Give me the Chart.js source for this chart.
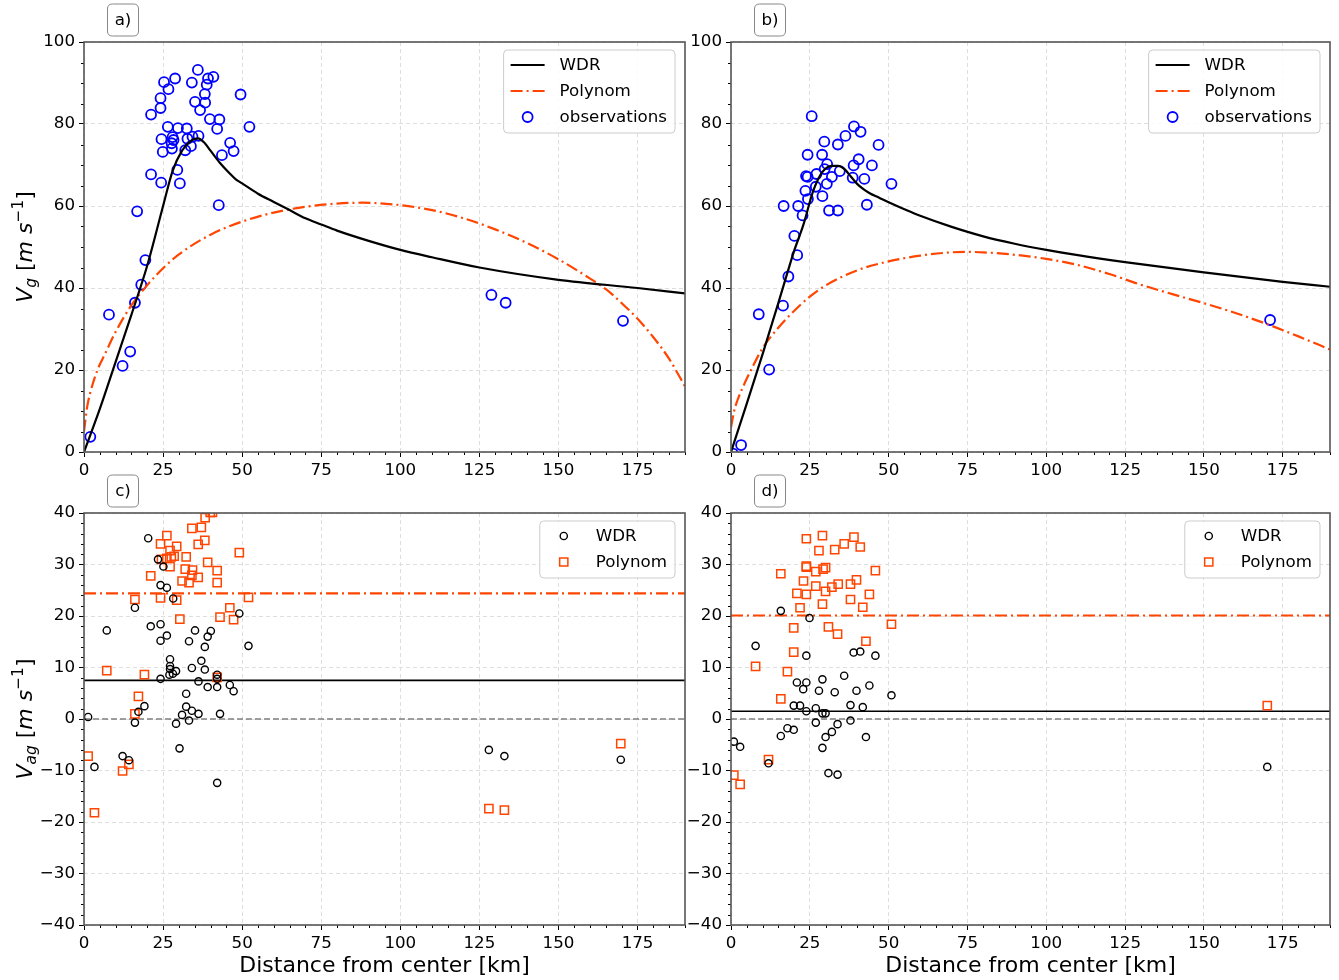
<!DOCTYPE html>
<html>
<head>
<meta charset="utf-8">
<script src="https://cdn.jsdelivr.net/npm/chart.js@4.4.0/dist/chart.umd.min.js"></script>
<style>
    body { margin: 0; background: #fff; }
    #wrap { position: relative; width: 1339px; height: 980px; overflow: hidden; }
    #wrap canvas { position: absolute; }
</style>
</head>
<body>
<div id="wrap">
    <canvas id="chartA" width="695" height="485" style="left:0;top:0"></canvas>
    <canvas id="chartB" width="653" height="485" style="left:686px;top:0"></canvas>
    <canvas id="chartC" width="695" height="520" style="left:0;top:460px"></canvas>
    <canvas id="chartD" width="653" height="520" style="left:686px;top:460px"></canvas>
</div>
<script>
// ---- panel a: wind profile, first case ----
const wdrAX = [0, 5, 10, 15, 20, 25, 28, 31, 34, 36, 38, 40, 43, 46, 48, 50, 55, 60, 65, 70, 75, 80, 90, 100, 110, 125, 150, 175, 190];
const wdrAY = [0, 10.5, 22, 33.5, 45.5, 60, 68.5, 73.5, 76, 76.5, 75.5, 73.5, 70.5, 68, 66.5, 65.5, 63, 61, 59, 57, 55.5, 54, 51.5, 49.3, 47.5, 45, 42, 40, 38.7];
const polyAX = [0, 1, 2, 4, 7, 10, 15, 20, 25, 30, 40, 50, 60, 70, 80, 88, 100, 110, 120, 130, 140, 150, 160, 165, 170, 175, 180, 185, 190];
const polyAY = [5, 11, 14.5, 19.5, 24.5, 29.3, 35.8, 40.7, 44.8, 48.2, 53, 56.2, 58.4, 59.8, 60.6, 60.8, 60.2, 59, 57, 54.3, 51, 47, 42.3, 39.7, 36.3, 32.5, 28, 22.7, 16];
const obsAX = [36.0, 25.3, 28.8, 26.7, 34.1, 39.2, 40.9, 38.8, 38.2, 24.2, 49.5, 35.1, 38.3, 24.2, 36.7, 21.2, 39.8, 42.8, 42.1, 52.3,
               26.5, 29.7, 32.5, 24.5, 28.0, 28.3, 32.7, 34.3, 36.2, 27.7, 33.8, 46.2, 24.9, 27.8, 32.0, 47.3, 43.6, 29.5, 21.2, 24.4,
               30.3, 42.6, 16.8, 19.4, 18.1, 16.1, 7.9, 14.6, 12.2, 2.0, 128.8, 133.3, 170.4];
const obsAY = [93.2, 90.2, 91.1, 88.5, 90.1, 91.1, 91.5, 89.6, 87.3, 86.3, 87.2, 85.4, 85.2, 83.9, 83.4, 82.3, 81.2, 81.1, 78.8, 79.3,
               79.3, 79.0, 78.9, 76.3, 76.8, 76.1, 76.4, 76.9, 77.1, 75.3, 74.6, 75.4, 73.2, 74.0, 73.6, 73.4, 72.4, 68.8, 67.7, 65.7,
               65.5, 60.2, 58.7, 46.8, 40.8, 36.4, 33.5, 24.5, 21.0, 3.7, 38.3, 36.4, 32.0];

// ---- panel b: wind profile, second case ----
const wdrBX = [0, 5, 10, 15, 18, 20, 23, 26, 29, 32, 34, 36, 38, 40, 42, 44, 47, 50, 55, 60, 70, 80, 90, 100, 110, 125, 150, 175, 190];
const wdrBY = [0, 11.8, 23.8, 36.3, 44, 49, 55.5, 63.5, 68.3, 69.8, 69.8, 69, 67.2, 65.4, 64.1, 63.1, 62, 60.9, 59.2, 57.6, 54.9, 52.6, 50.8, 49.3, 48, 46.3, 43.8, 41.5, 40.3];
const polyBX = [0, 1, 2, 4, 7, 10, 15, 20, 25, 30, 40, 50, 60, 70, 75, 80, 90, 100, 110, 120, 130, 140, 150, 160, 170, 180, 190];
const polyBY = [6, 10, 12.5, 16.2, 21, 25.3, 30.3, 34.4, 37.9, 40.6, 44.3, 46.5, 47.9, 48.7, 48.8, 48.7, 48.1, 47.1, 45.6, 43.4, 40.8, 38.5, 36.3, 33.9, 31.2, 28.2, 25];
const obsBX = [25.6, 39.0, 41.1, 36.3, 29.6, 33.9, 46.8, 24.3, 28.9, 40.5, 30.5, 38.9, 44.7, 29.7, 34.5, 23.8, 24.3, 27.1, 32.0, 38.6,
               42.3, 50.9, 23.6, 26.9, 30.4, 29.0, 24.4, 16.7, 21.3, 43.1, 22.7, 31.1, 33.9, 20.1, 21.0, 18.2, 16.5, 8.8, 12.1, 3.2,
               0.6, 171.0];
const obsBY = [81.9, 79.4, 78.1, 77.1, 75.7, 75.0, 74.9, 72.5, 72.5, 71.4, 70.2, 69.9, 69.9, 69.0, 68.5, 67.3, 67.1, 67.8, 67.1, 66.9,
               66.6, 65.4, 63.7, 64.7, 65.4, 62.4, 61.7, 60.0, 60.0, 60.3, 57.7, 58.9, 58.9, 52.7, 48.0, 42.8, 35.7, 33.6, 20.1, 1.7,
               -0.4, 32.2];

// ---- panel c: ageostrophic residuals, first case ----
const resWdrCX = [20.3, 23.4, 25.1, 24.2, 26.2, 28.2, 16.1, 49.1, 7.2, 21.1, 24.2, 26.2, 24.2, 35.1, 40.1, 39.1, 33.2, 38.2, 52.0, 27.2,
                  37.1, 27.2, 27.2, 34.1, 38.2, 29.1, 28.1, 27.0, 24.2, 42.1, 42.1, 36.2, 39.1, 42.1, 46.1, 47.3, 32.3, 19.1, 17.2, 32.3,
                  34.1, 31.0, 36.2, 43.0, 33.2, 1.3, 16.1, 29.1, 30.2, 12.2, 14.2, 3.3, 42.1, 128.0, 132.9, 169.7];
const resWdrCY = [35.1, 31.0, 29.6, 26.0, 25.5, 23.4, 21.6, 20.5, 17.2, 18.0, 18.4, 16.2, 15.2, 17.2, 17.1, 16.0, 15.1, 14.0, 14.2, 11.6,
                  11.3, 10.3, 9.7, 9.9, 9.6, 9.3, 8.8, 8.6, 7.8, 8.6, 7.8, 7.3, 6.2, 6.2, 6.6, 5.4, 4.9, 2.5, 1.4, 2.4,
                  1.6, 0.8, 1.0, 1.0, -0.3, 0.4, -0.7, -0.9, -5.7, -7.2, -8.0, -9.3, -12.4, -6.0, -7.2, -7.9];
const resPolyCX = [38.3, 39.9, 40.6, 34.1, 37.1, 26.2, 24.2, 29.3, 36.1, 38.2, 27.2, 49.1, 32.3, 24.5, 26.2, 27.6, 28.5, 27.2, 39.1, 32.0,
                   34.3, 42.1, 34.1, 36.1, 21.1, 31.0, 33.2, 42.1, 16.1, 24.2, 29.3, 52.0, 46.1, 43.0, 47.3, 30.3, 7.2, 19.1, 42.1, 17.2,
                   16.1, 1.3, 14.2, 12.2, 3.3, 128.0, 132.9, 169.7];
const resPolyCY = [39.1, 40.1, 40.1, 37.0, 37.2, 35.6, 34.0, 33.5, 33.9, 34.7, 32.7, 32.3, 31.5, 31.0, 31.2, 31.5, 31.6, 29.6, 30.4, 29.1,
                   28.9, 28.8, 27.9, 27.5, 27.8, 26.8, 26.5, 26.5, 23.2, 23.5, 23.1, 23.6, 21.6, 19.8, 19.3, 19.4, 9.4, 8.6, 8.1, 4.4,
                   1.0, -7.2, -8.8, -10.1, -18.2, -17.4, -17.7, -4.8];
const seriesLabels = ['WDR', 'Polynom'];
const meanC = [7.5, 24.4];

// ---- panel d: ageostrophic residuals, second case ----
const resWdrDX = [15.8, 24.9, 7.8, 23.9, 38.9, 41.0, 45.8, 35.9, 29.0, 20.9, 23.9, 22.9, 27.9, 32.9, 39.8, 43.9, 50.9, 19.9, 21.9, 23.9,
                  26.9, 29.0, 30.0, 37.9, 41.8, 26.9, 37.9, 33.8, 32.0, 17.9, 19.9, 15.8, 30.0, 42.8, 29.0, 0.9, 2.9, 11.9, 30.9, 33.8,
                  170.1];
const resWdrDY = [21.0, 19.6, 14.2, 12.3, 12.9, 13.1, 12.3, 8.4, 7.7, 7.1, 7.1, 5.8, 5.5, 5.2, 5.5, 6.5, 4.6, 2.6, 2.6, 1.5,
                  2.1, 1.1, 1.1, 2.7, 2.3, -0.7, -0.3, -1.0, -2.5, -1.8, -2.1, -3.3, -3.5, -3.5, -5.6, -4.4, -5.4, -8.6, -10.5, -10.8,
                  -9.3];
const resPolyDX = [23.9, 29.0, 39.0, 35.9, 41.0, 27.9, 32.9, 23.9, 23.9, 30.0, 29.2, 26.9, 45.8, 15.8, 23.0, 39.8, 26.9, 32.0, 34.0, 37.9,
                   30.0, 20.9, 23.9, 43.9, 37.9, 29.0, 21.9, 41.8, 50.9, 19.9, 30.9, 33.8, 42.8, 19.9, 7.8, 17.9, 15.8, 11.9, 0.9, 2.9,
                   170.1];
const resPolyDY = [35.0, 35.6, 35.3, 34.0, 33.4, 32.7, 32.9, 29.7, 29.5, 29.4, 29.1, 28.6, 28.8, 28.2, 26.8, 27.0, 25.8, 25.6, 26.2, 26.2,
                   24.8, 24.4, 24.2, 24.2, 23.2, 22.3, 21.6, 21.7, 18.4, 17.7, 17.9, 16.5, 15.1, 13.0, 10.2, 9.2, 3.9, -7.9, -10.9, -12.7,
                   2.6];
const meanD = [1.5, 20.1];

const xRange = [0, 190];
const xTitle = 'Distance from center [km]';

const BLUE = '#0000ff';
const ORANGE = '#ff4500';
const FONT = 'DejaVu Sans';

Chart.defaults.font.family = FONT;
Chart.defaults.font.size = 16.7;
Chart.defaults.color = '#000';

function pts(xs, ys) {
    return xs.map((x, i) => ({ x: x, y: ys[i] }));
}

function curve(label, xs, ys, color, dash) {
    return {
        label: label,
        data: pts(xs, ys),
        showLine: true,
        borderColor: color,
        borderWidth: 2.2,
        borderDash: dash || [],
        pointRadius: 0,
        cubicInterpolationMode: 'monotone',
        clip: 0
    };
}

function markers(label, xs, ys, color, style, r, w) {
    return {
        label: label,
        data: pts(xs, ys),
        showLine: false,
        borderColor: color,
        backgroundColor: 'rgba(0,0,0,0)',
        pointStyle: style,
        pointRadius: r,
        borderWidth: w,
        clip: 0
    };
}

function hline(label, value, color, dash, width) {
    return {
        label: label,
        data: pts(xRange, [value, value]),
        showLine: true,
        borderColor: color,
        borderWidth: width,
        borderDash: dash,
        pointRadius: 0,
        clip: 0
    };
}

// y-axis title with sub/superscripts, drawn rotated
function drawMathTitle(ctx, parts, cx, cy, size) {
    ctx.save();
    ctx.translate(cx, cy);
    ctx.rotate(-Math.PI / 2);
    let total = 0;
    const runs = parts.map(p => {
        const fs = (p.sub || p.sup) ? size * 0.7 : size;
        const font = (p.it ? 'italic ' : '') + fs + 'px "' + FONT + '"';
        ctx.font = font;
        const w = ctx.measureText(p.t).width;
        total += w;
        return { p, font, w };
    });
    let x = -total / 2;
    ctx.fillStyle = '#000';
    ctx.textBaseline = 'alphabetic';
    ctx.textAlign = 'left';
    runs.forEach(r => {
        ctx.font = r.font;
        const dy = r.p.sub ? size * 0.2 : (r.p.sup ? -size * 0.4 : 0);
        ctx.fillText(r.p.t, x, size * 0.36 + dy);
        x += r.w;
    });
    ctx.restore();
}

function roundBox(ctx, x, y, w, h, r) {
    ctx.beginPath();
    ctx.moveTo(x + r, y);
    ctx.lineTo(x + w - r, y);
    ctx.quadraticCurveTo(x + w, y, x + w, y + r);
    ctx.lineTo(x + w, y + h - r);
    ctx.quadraticCurveTo(x + w, y + h, x + w - r, y + h);
    ctx.lineTo(x + r, y + h);
    ctx.quadraticCurveTo(x, y + h, x, y + h - r);
    ctx.lineTo(x, y + r);
    ctx.quadraticCurveTo(x, y, x + r, y);
    ctx.closePath();
}

// frame, minor ticks, legend box, panel tag and y title
const panelDecor = {
    id: 'panelDecor',
    afterDraw(chart, args, opts) {
        const ctx = chart.ctx;
        const a = chart.chartArea;
        const xs = chart.scales.x, ys = chart.scales.y;

        ctx.save();
        // minor ticks
        ctx.strokeStyle = '#000';
        ctx.lineWidth = 1;
        ctx.beginPath();
        for (let v = xs.min; v <= xs.max; v += 5) {
            if (v % 25 === 0) continue;
            const px = Math.round(xs.getPixelForValue(v)) + 0.5;
            ctx.moveTo(px, a.bottom);
            ctx.lineTo(px, a.bottom + 3);
        }
        for (let v = ys.min; v <= ys.max; v += opts.minorY) {
            if (v % opts.majorY === 0) continue;
            const py = Math.round(ys.getPixelForValue(v)) + 0.5;
            ctx.moveTo(a.left, py);
            ctx.lineTo(a.left - 3, py);
        }
        ctx.stroke();

        // axes frame
        ctx.strokeStyle = '#555';
        ctx.lineWidth = 1.6;
        ctx.strokeRect(a.left, a.top, a.right - a.left, a.bottom - a.top);

        // legend
        const items = opts.legendItems.map(i => chart.data.datasets[i]);
        ctx.font = '16.7px "' + FONT + '"';
        const tw = Math.max(...items.map(d => ctx.measureText(d.label).width));
        const bw = 56 + tw + 8;
        const bh = 26 * items.length + 5;
        const bx = a.right - 10 - bw;
        const by = a.top + 8;
        roundBox(ctx, bx, by, bw, bh, 4);
        ctx.fillStyle = 'rgba(255,255,255,0.85)';
        ctx.fill();
        ctx.strokeStyle = '#cccccc';
        ctx.lineWidth = 1;
        ctx.stroke();
        items.forEach((d, i) => {
            const cy = by + 15 + 26 * i;
            if (d.showLine) {
                ctx.save();
                ctx.strokeStyle = d.borderColor;
                ctx.lineWidth = d.borderWidth;
                ctx.setLineDash(d.borderDash || []);
                ctx.beginPath();
                ctx.moveTo(bx + 7, cy);
                ctx.lineTo(bx + 41, cy);
                ctx.stroke();
                ctx.restore();
            } else {
                ctx.save();
                ctx.strokeStyle = d.borderColor;
                ctx.fillStyle = 'rgba(0,0,0,0)';
                ctx.lineWidth = d.borderWidth;
                Chart.helpers.drawPoint(ctx, {
                    pointStyle: d.pointStyle, radius: d.pointRadius, rotation: 0, borderWidth: d.borderWidth
                }, bx + 24, cy);
                ctx.restore();
            }
            ctx.fillStyle = '#000';
            ctx.textBaseline = 'middle';
            ctx.textAlign = 'left';
            ctx.fillText(d.label, bx + 56, cy + 1);
        });

        // panel tag
        const tcx = a.left + 39, tcy = a.top - 22;
        roundBox(ctx, tcx - 15.5, tcy - 16, 31, 32, 5);
        ctx.fillStyle = '#fff';
        ctx.fill();
        ctx.strokeStyle = '#888';
        ctx.lineWidth = 1;
        ctx.stroke();
        ctx.fillStyle = '#000';
        ctx.textAlign = 'center';
        ctx.textBaseline = 'middle';
        ctx.font = '16.7px "' + FONT + '"';
        ctx.fillText(opts.tag, tcx, tcy + 1);
        ctx.restore();

        if (opts.yTitle) {
            drawMathTitle(ctx, opts.yTitle, 24, (a.top + a.bottom) / 2, 22);
        }
    }
};

// tick text with a typographic minus sign
const minusLabel = v => String(v).replace('-', '\u2212');

function makePanel(id, datasets, cfg) {
    const ctx = document.getElementById(id).getContext('2d');
    return new Chart(ctx, {
        type: 'scatter',
        data: { datasets: datasets },
        plugins: [panelDecor],
        options: {
            responsive: false,
            animation: false,
            devicePixelRatio: 1,
            layout: { padding: { top: cfg.padTop, right: cfg.padRight, left: 0, bottom: 0 } },
            scales: {
                x: {
                    type: 'linear',
                    min: xRange[0],
                    max: xRange[1],
                    ticks: { stepSize: 25, includeBounds: false, padding: 4, maxRotation: 0 },
                    grid: { color: '#dedede', lineWidth: 1, tickColor: '#000', tickLength: 5, tickBorderDash: [] },
                    border: { display: false, dash: [4, 3] },
                    title: {
                        display: !!cfg.xTitle,
                        text: xTitle,
                        font: { size: 22 },
                        padding: { top: 0, bottom: 1 }
                    },
                    afterFit: s => { s.height = cfg.xHeight; }
                },
                y: {
                    type: 'linear',
                    min: cfg.yMin,
                    max: cfg.yMax,
                    ticks: { stepSize: cfg.yStep, padding: 4, callback: minusLabel },
                    grid: { color: '#dedede', lineWidth: 1, tickColor: '#000', tickLength: 5, tickBorderDash: [] },
                    border: { display: false, dash: [4, 3] },
                    afterFit: s => { s.width = cfg.yWidth; }
                }
            },
            plugins: {
                legend: { display: false },
                tooltip: { enabled: false },
                panelDecor: {
                    tag: cfg.tag,
                    yTitle: cfg.yTitle,
                    minorY: cfg.minorY,
                    majorY: cfg.yStep,
                    legendItems: cfg.legendItems
                }
            }
        }
    });
}

const titleVg = [
    { t: 'V', it: true }, { t: 'g', it: true, sub: true }, { t: ' [' },
    { t: 'm', it: true }, { t: ' ' }, { t: 's', it: true }, { t: '\u22121', sup: true }, { t: ']' }
];
const titleVag = [
    { t: 'V', it: true }, { t: 'ag', it: true, sub: true }, { t: ' [' },
    { t: 'm', it: true }, { t: ' ' }, { t: 's', it: true }, { t: '\u22121', sup: true }, { t: ']' }
];

const DASHDOT = [12, 4, 2, 4];

makePanel('chartA', [
    curve(seriesLabels[0], wdrAX, wdrAY, '#000'),
    curve(seriesLabels[1], polyAX, polyAY, ORANGE, DASHDOT),
    markers('observations', obsAX, obsAY, BLUE, 'circle', 5, 1.8)
], { padTop: 42, padRight: 10, xHeight: 33, yWidth: 84, yMin: 0, yMax: 100, yStep: 20, minorY: 5,
     tag: 'a)', yTitle: titleVg, legendItems: [0, 1, 2] });

makePanel('chartB', [
    curve(seriesLabels[0], wdrBX, wdrBY, '#000'),
    curve(seriesLabels[1], polyBX, polyBY, ORANGE, DASHDOT),
    markers('observations', obsBX, obsBY, BLUE, 'circle', 5, 1.8)
], { padTop: 42, padRight: 9, xHeight: 33, yWidth: 45, yMin: 0, yMax: 100, yStep: 20, minorY: 5,
     tag: 'b)', yTitle: null, legendItems: [0, 1, 2] });

makePanel('chartC', [
    markers(seriesLabels[0], resWdrCX, resWdrCY, '#000', 'circle', 3.6, 1.4),
    markers(seriesLabels[1], resPolyCX, resPolyCY, ORANGE, 'rect', 5.8, 1.5),
    hline('WDR mean', meanC[0], '#000', [], 1.6),
    hline('Polynom mean', meanC[1], ORANGE, DASHDOT, 2.2),
    hline('zero', 0, '#808080', [6, 3], 1.6)
], { padTop: 53, padRight: 10, xHeight: 55, yWidth: 84, yMin: -40, yMax: 40, yStep: 10, minorY: 2,
     tag: 'c)', yTitle: titleVag, legendItems: [0, 1], xTitle: true });

makePanel('chartD', [
    markers(seriesLabels[0], resWdrDX, resWdrDY, '#000', 'circle', 3.6, 1.4),
    markers(seriesLabels[1], resPolyDX, resPolyDY, ORANGE, 'rect', 5.8, 1.5),
    hline('WDR mean', meanD[0], '#000', [], 1.6),
    hline('Polynom mean', meanD[1], ORANGE, DASHDOT, 2.2),
    hline('zero', 0, '#808080', [6, 3], 1.6)
], { padTop: 53, padRight: 9, xHeight: 55, yWidth: 45, yMin: -40, yMax: 40, yStep: 10, minorY: 2,
     tag: 'd)', yTitle: null, legendItems: [0, 1], xTitle: true });
</script>
</body>
</html>
